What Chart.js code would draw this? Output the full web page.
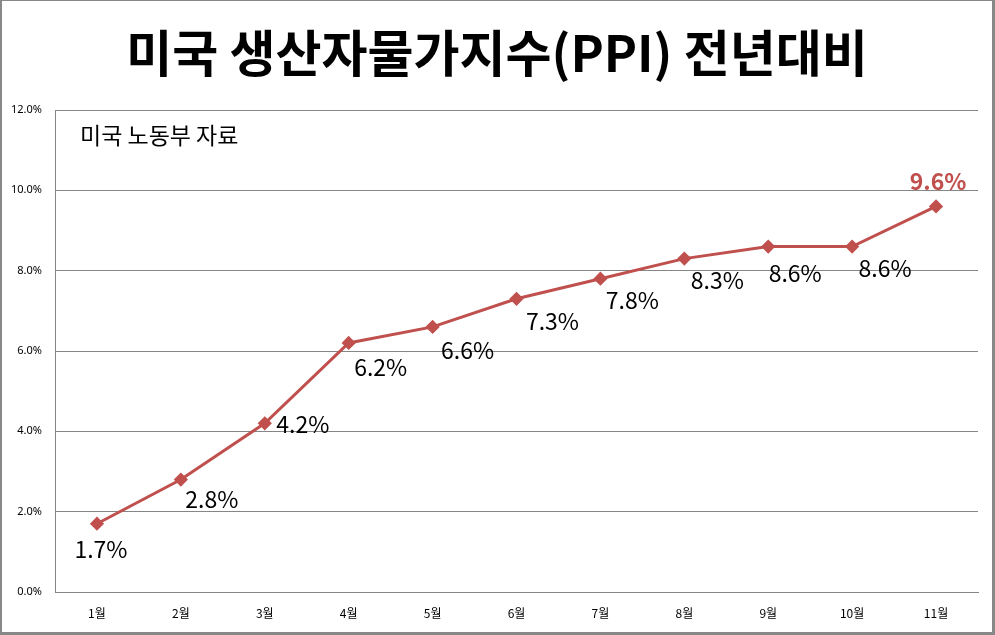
<!DOCTYPE html>
<html>
<head>
<meta charset="utf-8">
<script src="https://cdn.jsdelivr.net/npm/chart.js@4"></script>
<style>
  body { margin: 0; background: #fff; }
  #wrap { position: relative; width: 995px; height: 635px; }
</style>
</head>
<body>
<div id="wrap"><canvas id="ppiChart" width="995" height="635"></canvas></div>
<script>
// chart data
const months = ['1월', '2월', '3월', '4월', '5월', '6월', '7월', '8월', '9월', '10월', '11월'];
const ppiValues = [1.7, 2.8, 4.2, 6.2, 6.6, 7.3, 7.8, 8.3, 8.6, 8.6, 9.6];
const yTicks = [0, 2, 4, 6, 8, 10, 12];

const titleText = '미국 생산자물가지수(PPI) 전년대비';
const noteText = '미국 노동부 자료';
const lineColor = '#C0504D';
const gridColor = '#868686';
const fontKR = '"Noto Sans CJK KR", "Noto Sans", sans-serif';

// where each value label sits relative to its point (dx, dy to label centre)
const labelOffsets = [[4, 26], [31, 20], [38, 1], [32, 24], [35, 23], [36, 22],
  [32, 22], [33, 22], [27, 27], [33, 22], [2, -25]];

// Title, note, value labels and outer frame
const decorPlugin = {
  id: 'decor',
  afterDatasetsDraw(chart) {
    const c = chart.ctx;
    c.save();
    c.fillStyle = '#000';
    c.textAlign = 'center';
    c.textBaseline = 'middle';
    c.font = 'bold 50px ' + fontKR;
    c.fillText(titleText, 497, 53);

    c.textAlign = 'left';
    c.font = '23px ' + fontKR;
    c.fillText(noteText, 80, 135);

    const meta = chart.getDatasetMeta(0);
    const last = meta.data.length - 1;
    meta.data.forEach((pt, i) => {
      const off = labelOffsets[i];
      c.textAlign = 'center';
      if (i === last) {
        c.fillStyle = lineColor;
        c.font = 'bold 23px ' + fontKR;
      } else {
        c.fillStyle = '#000';
        c.font = '23px ' + fontKR;
      }
      c.fillText(ppiValues[i].toFixed(1) + '%', pt.x + off[0], pt.y + off[1]);
    });

    // frame around the picture
    c.fillStyle = '#888';
    c.fillRect(0, 0, 995, 1);
    c.fillRect(0, 0, 2, 635);
    c.fillRect(992, 0, 3, 635);
    c.fillRect(0, 632, 995, 3);
    c.restore();
  }
};

const ctx = document.getElementById('ppiChart').getContext('2d');
const chart = new Chart(ctx, {
  type: 'line',
  data: {
    labels: months,
    datasets: [{
      data: ppiValues,
      borderColor: lineColor,
      backgroundColor: lineColor,
      borderWidth: 3,
      pointStyle: 'rectRot',
      pointRadius: 5,
      pointHoverRadius: 5,
      fill: false,
      tension: 0
    }]
  },
  options: {
    responsive: false,
    animation: false,
    devicePixelRatio: 1,
    layout: { padding: { top: 110, left: 0, right: 17, bottom: 0 } },
    plugins: {
      legend: { display: false },
      tooltip: { enabled: false },
      title: { display: false }
    },
    scales: {
      x: {
        offset: true,
        grid: { display: false, drawTicks: false },
        border: { display: true, color: gridColor, width: 1 },
        ticks: {
          color: '#000',
          padding: 14,
          font: { family: fontKR, size: 12 }
        },
        afterFit(scale) { scale.height = 43; }
      },
      y: {
        min: 0,
        max: 12,
        afterBuildTicks(scale) { scale.ticks = yTicks.map(v => ({ value: v })); },
        grid: { color: gridColor, lineWidth: 1, drawTicks: false },
        border: { display: true, color: gridColor, width: 1 },
        ticks: {
          color: '#000',
          padding: 13,
          font: { family: '"Noto Sans", sans-serif', size: 11 },
          callback: v => v.toFixed(1) + '%'
        },
        afterFit(scale) { scale.width = 55; }
      }
    }
  },
  plugins: [decorPlugin]
});
</script>
</body>
</html>
